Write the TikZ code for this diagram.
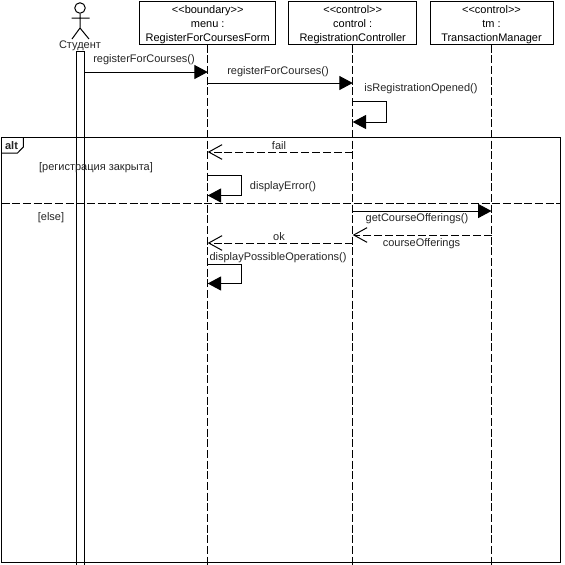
\documentclass[tikz,border=0pt]{standalone}
\usepackage{fontspec}
\setmainfont{Liberation Sans}
\usetikzlibrary{arrows.meta}
\newcommand{\headgap}{\rule{0pt}{9pt}}
\tikzset{
	lifebox/.style={draw,fill=white,line width=0.75pt,align=center,inner sep=0,minimum height=41.5*0.75pt,font=\fontsize{8.25}{10.5}\selectfont},
	lifeline/.style={line width=0.75pt,dash pattern=on 6pt off 2pt},
	call/.style={line width=0.75pt,-{Triangle[length=10pt,width=10.5pt]}},
	reply/.style={line width=0.75pt,dash pattern=on 6pt off 2.2pt,-{Straight Barb[length=10pt,width=11pt]}},
	txt/.style={inner sep=0,yshift=-0.75pt,font=\fontsize{8.25}{10}\selectfont,text=black!85}
}
\begin{document}
\begin{tikzpicture}[x=0.75pt,y=-0.75pt]
	\useasboundingbox (0,0) rectangle (565,565);
	\fill[white] (0,0) rectangle (565,565);
	% lifelines
	\node[lifebox,minimum width=136*0.75pt] (menu) at (207.7,23) {\headgap<{}<boundary>{}>\\menu :\\RegisterForCoursesForm};
	\node[lifebox,minimum width=128*0.75pt] (control) at (352.7,23) {\headgap<{}<control>{}>\\control :\\RegistrationController};
	\node[lifebox,minimum width=123*0.75pt] (tm) at (491.5,23) {\headgap<{}<control>{}>\\tm :\\TransactionManager};
	\foreach \n in {menu,control,tm}{
		\coordinate (\n end) at (\n.center |- 0,565);
		\draw[lifeline] (\n.south) -- (\n end);
	}
	% actor
	\node[circle,draw,line width=0.75pt,minimum size=10.5*0.75pt,inner sep=0] (head) at (80,8) {};
	\coordinate (hip) at (80,28);
	\coordinate (armL) at (71.5,18);
	\coordinate (armR) at (89.5,18);
	\coordinate (legL) at (72,39);
	\coordinate (legR) at (89,39);
	\draw[line width=0.75pt] (head.south) -- (hip) (armL) -- (armR) (legL) -- (hip) -- (legR);
	\node[txt] (student) at (80,44.5) {Студент};
	% activation bar
	\node[draw,line width=0.75pt,minimum width=7.5*0.75pt,minimum height=514*0.75pt,inner sep=0] (bar) at (80.5,308) {};
	% alt fragment
	\node[draw,line width=0.75pt,minimum width=558.5*0.75pt,minimum height=425*0.75pt,inner sep=0] (alt) at (280.75,349.5) {};
	\coordinate (tabA) at (23.3,137);
	\coordinate (tabB) at (23.3,147);
	\coordinate (tabC) at (17.5,153);
	\coordinate (tabD) at (1.5,153);
	\draw[line width=0.75pt] (tabA) -- (tabB) -- (tabC) -- (tabD);
	\node[txt,font=\fontsize{8.25}{10}\selectfont\bfseries] (altlabel) at (11.5,144.5) {alt};
	\coordinate (sepL) at (1.5,203);
	\coordinate (sepR) at (560,203);
	\draw[line width=0.75pt,dash pattern=on 6pt off 2pt] (sepL) -- (sepR);
	\node[txt] (guardA) at (96,166.5) {[регистрация закрыта]};
	\node[txt] (guardB) at (51,216.5) {[else]};
	% messages
	\coordinate (m1a) at (84.5,72);
	\coordinate (m1b) at (207.7,72);
	\coordinate (m2a) at (207.7,83);
	\coordinate (m2b) at (352.7,83);
	\coordinate (m4a) at (352.7,152);
	\coordinate (m4b) at (207.7,152);
	\coordinate (m6a) at (352.7,211);
	\coordinate (m6b) at (491.5,211);
	\coordinate (m7a) at (491.5,235);
	\coordinate (m7b) at (352.7,235);
	\coordinate (m8a) at (352.7,243);
	\coordinate (m8b) at (207.7,243);
	\draw[call] (m1a) -- (m1b);
	\draw[call] (m2a) -- (m2b);
	\draw[reply] (m4a) -- (m4b);
	\draw[call] (m6a) -- (m6b);
	\draw[reply] (m7a) -- (m7b);
	\draw[reply] (m8a) -- (m8b);
	% self calls
	\foreach \n/\px/\ya/\yb in {s1/352.7/101.5/122,s2/207.7/175.5/195.5,s3/207.7/264/283.5}{
		\coordinate (\n a) at (\px,\ya);
		\coordinate (\n b) at (\px+34,\ya);
		\coordinate (\n c) at (\px+34,\yb);
		\coordinate (\n d) at (\px,\yb);
		\draw[call] (\n a) -- (\n b) -- (\n c) -- (\n d);
	}
	% message labels
	\node[txt] (l1) at (144,59) {registerForCourses()};
	\node[txt] (l2) at (278,71) {registerForCourses()};
	\node[txt] (l3) at (421,87.5) {isRegistrationOpened()};
	\node[txt] (l4) at (279,145) {fail};
	\node[txt] (l5) at (283,186) {displayError()};
	\node[txt] (l6) at (417,218) {getCourseOfferings()};
	\node[txt] (l7) at (421.5,243) {courseOfferings};
	\node[txt] (l8) at (279,236) {ok};
	\node[txt] (l9) at (278,257) {displayPossibleOperations()};
\end{tikzpicture}
\end{document}
